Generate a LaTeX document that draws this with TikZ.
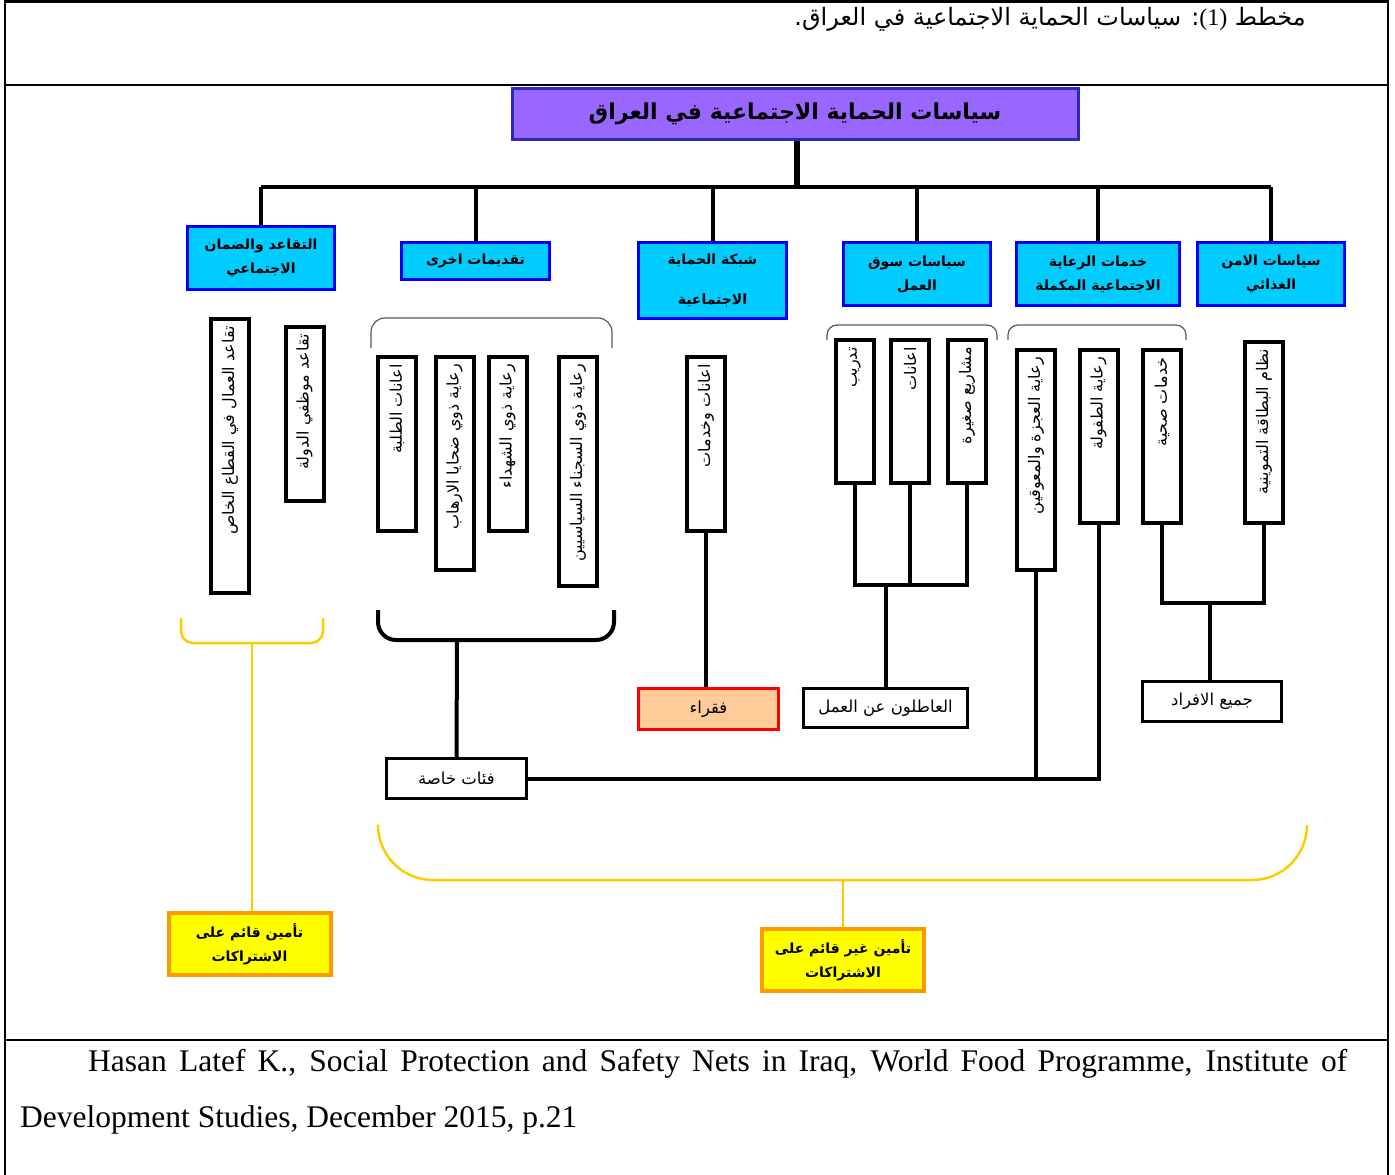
\documentclass[tikz,border=0pt]{standalone}
\usepackage{fontspec}
\setmainfont{Liberation Serif}
\newfontfamily\arabicfont[Script=Arabic]{DejaVu Sans}
\TeXXeTstate=1
\newcommand{\artxt}[1]{{\arabicfont\beginR #1\endR}}
\definecolor{titlefill}{HTML}{9966FF}
\definecolor{titledraw}{HTML}{2A2AB8}
\definecolor{catfill}{HTML}{00CCFF}
\definecolor{catdraw}{HTML}{0000FF}
\definecolor{faqfill}{HTML}{FFCC99}
\definecolor{ylwfill}{HTML}{FFFF00}
\definecolor{ylwdraw}{HTML}{FF9900}
\definecolor{ylwline}{HTML}{FFCC00}
\tikzset{
  titlebox/.style={draw=titledraw, fill=titlefill, line width=3pt, minimum width=566pt, minimum height=51pt, inner sep=0pt, font=\fontsize{22}{26}\selectfont\bfseries},
  catbox/.style={draw=catdraw, fill=catfill, line width=3.5pt, align=center, inner sep=0pt, font=\fontsize{14}{24}\selectfont\bfseries},
  vbox/.style={draw, line width=4pt, fill=white, minimum width=38pt, inner sep=0pt},
  vtext/.style={rotate=90, anchor=east, inner sep=0pt, font=\fontsize{16}{19}\selectfont},
  leafbox/.style={draw, line width=3pt, fill=white, inner sep=0pt, font=\fontsize{16.5}{19}\selectfont},
  ylwbox/.style={draw=ylwdraw, fill=ylwfill, line width=4pt, align=center, inner sep=0pt, minimum width=162pt, minimum height=62pt, font=\fontsize{14}{24}\selectfont\bfseries},
  link/.style={line width=4pt},
  ylink/.style={draw=ylwline, line width=2.5pt},
  thinarc/.style={draw=black!65, line width=1.2pt, rounded corners=14pt},
  frame/.style={line width=2.5pt}
}
\begin{document}
\begin{tikzpicture}[x=1pt,y=-1pt]
\useasboundingbox (0,0) rectangle (1395,1175);
% frame
\draw[frame] (5,1175) -- (5,1.5) -- (1388,1.5) -- (1388,1175);
\draw[frame] (5,85) -- (1388,85);
\draw[frame] (5,1040) -- (1388,1040);
% caption
\node[anchor=east, inner sep=0pt, font=\fontsize{24}{28}\selectfont] (cap) at (1306,19)
  {\arabicfont\beginR مخطط \beginL{\rmfamily(1)}\endL: سياسات الحماية الاجتماعية في العراق.\endR};
% title
\node[titlebox] (title) at (795,113.5) {\artxt{سياسات الحماية الاجتماعية في العراق}};
% categories
\node[catbox, minimum width=147pt, minimum height=63pt] (cat1) at (261,258) {\artxt{التقاعد والضمان}\\\artxt{الاجتماعي}};
\node[catbox, minimum width=148pt, minimum height=37pt] (cat2) at (475.5,261) {\artxt{تقديمات اخرى}};
\node[catbox, minimum width=148pt, minimum height=76pt, font=\fontsize{14}{40}\selectfont\bfseries] (cat3) at (712.5,280.5) {\artxt{شبكة الحماية}\\\artxt{الاجتماعية}};
\node[catbox, minimum width=147pt, minimum height=63pt] (cat4) at (917,274) {\artxt{سياسات سوق}\\\artxt{العمل}};
\node[catbox, minimum width=163pt, minimum height=63pt] (cat5) at (1098,274) {\artxt{خدمات الرعاية}\\\artxt{الاجتماعية المكملة}};
\node[catbox, minimum width=147pt, minimum height=63pt] (cat6) at (1271,274) {\artxt{سياسات الامن}\\\artxt{الغذائي}};
% trunk and bar
\coordinate (bar) at (797,187);
\draw[line width=6pt] (title.south -| bar) -- (bar);
\draw[link] (cat1.north |- bar) -- (cat6.north |- bar);
\foreach \c in {cat1,cat2,cat3,cat4,cat5,cat6} \draw[link] (\c.north) -- (\c.north |- bar);
% vertical boxes
\node[vbox, minimum height=274pt] (va) at (230,456) {};
\node[vbox, minimum height=174pt] (vb) at (304.5,414) {};
\node[vbox, minimum height=174pt] (vc) at (397,444) {};
\node[vbox, minimum height=213pt] (vd) at (454.5,463.5) {};
\node[vbox, minimum height=174pt] (ve) at (507.5,444) {};
\node[vbox, minimum height=229pt] (vf) at (578,471.5) {};
\node[vbox, minimum height=174pt] (vg) at (706,444) {};
\node[vbox, minimum height=143pt] (vh) at (855,411.5) {};
\node[vbox, minimum height=143pt] (vi) at (910,411.5) {};
\node[vbox, minimum height=143pt] (vj) at (967,411.5) {};
\node[vbox, minimum height=220pt] (vk) at (1036,460) {};
\node[vbox, minimum height=173pt] (vl) at (1098.5,436.5) {};
\node[vbox, minimum height=173pt] (vm) at (1162,436.5) {};
\node[vbox, minimum height=181pt] (vn) at (1264,432.5) {};
\node[vtext] (ta) at ([yshift=-9pt]va.north) {\artxt{تقاعد العمال في القطاع الخاص}};
\node[vtext] (tb) at ([yshift=-9pt]vb.north) {\artxt{تقاعد موظفي الدولة}};
\node[vtext] (tc) at ([yshift=-9pt]vc.north) {\artxt{اعانات الطلبة}};
\node[vtext] (td) at ([yshift=-9pt]vd.north) {\artxt{رعاية ذوي ضحايا الارهاب}};
\node[vtext] (te) at ([yshift=-9pt]ve.north) {\artxt{رعاية ذوي الشهداء}};
\node[vtext] (tf) at ([yshift=-9pt]vf.north) {\artxt{رعاية ذوي السجناء السياسيين}};
\node[vtext] (tg) at ([yshift=-9pt]vg.north) {\artxt{اعانات وخدمات}};
\node[vtext] (th) at ([yshift=-9pt]vh.north) {\artxt{تدريب}};
\node[vtext] (ti) at ([yshift=-9pt]vi.north) {\artxt{اعانات}};
\node[vtext] (tj) at ([yshift=-9pt]vj.north) {\artxt{مشاريع صغيرة}};
\node[vtext] (tk) at ([yshift=-9pt]vk.north) {\artxt{رعاية العجزة والمعوقين}};
\node[vtext] (tl) at ([yshift=-9pt]vl.north) {\artxt{رعاية الطفولة}};
\node[vtext] (tm) at ([yshift=-9pt]vm.north) {\artxt{خدمات صحية}};
\node[vtext] (tn) at ([yshift=-9pt]vn.north) {\artxt{نظام البطاقة التموينية}};
% thin arcs
\draw[thinarc] (371,348) -- (371,318) -- (612,318) -- (612,348);
\draw[thinarc, rounded corners=10pt] (827,340) -- (827,325) -- (997,325) -- (997,340);
\draw[thinarc, rounded corners=10pt] (1008,340) -- (1008,325) -- (1186,325) -- (1186,340);
% leaf boxes
\node[leafbox, draw=red, fill=faqfill, minimum width=140pt, minimum height=41pt] (faq) at (708.5,709) {\artxt{فقراء}};
\node[leafbox, minimum width=164pt, minimum height=39pt] (atl) at (885.5,708) {\artxt{العاطلون عن العمل}};
\node[leafbox, minimum width=139pt, minimum height=40pt] (jam) at (1212,701.5) {\artxt{جميع الافراد}};
\node[leafbox, minimum width=140pt, minimum height=40pt] (fia) at (456.5,778.5) {\artxt{فئات خاصة}};
% yellow boxes
\node[ylwbox] (y1) at (249.5,944) {\artxt{تأمين قائم على}\\\artxt{الاشتراكات}};
\node[ylwbox] (y2) at (843,960) {\artxt{تأمين غير قائم على}\\\artxt{الاشتراكات}};
% black bracket under group
\draw[link, rounded corners=18pt] (378,610) -- (378,640) -- (614,640) -- (614,610);
\coordinate (brk) at (457,640);
\draw[link] (brk) -- (fia.north);
% net
\draw[link] (vg.south) -- (vg.south |- faq.north);
% market
\coordinate (mk) at (886,585);
\draw[link] (vh.south) -- (vh.south |- mk) -- (vj.south |- mk) -- (vj.south);
\draw[link] (vi.south) -- (vi.south |- mk);
\draw[link] (mk) -- (mk |- atl.north);
% food
\coordinate (fd) at (1210,603);
\draw[link] (vm.south) -- (vm.south |- fd) -- (vn.south |- fd) -- (vn.south);
\draw[link] (fd) -- (fd |- jam.north);
% care to special groups
\draw[link] (vk.south) -- (vk.south |- fia.east);
\draw[link] (vl.south) -- (vl.south |- fia.east) -- (fia.east);
% yellow brackets
\draw[ylink, rounded corners=12pt] (181,618) -- (181,643) -- (323,643) -- (323,618);
\coordinate (yb1) at (252,643);
\draw[ylink] (yb1) -- (yb1 |- y1.north);
\draw[ylink, rounded corners=55pt] (378,826) -- (378,880) -- (1307,880) -- (1307,826);
\coordinate (yb2) at (843,880);
\draw[ylink] (yb2) -- (y2.north);
% citation
\node[anchor=base west, inner sep=0pt, font=\fontsize{31.5}{36}\selectfont] (cit1) at (88,1071)
  {\makebox[1259pt][s]{Hasan Latef K., Social Protection and Safety Nets in Iraq, World Food Programme, Institute of}};
\node[anchor=base west, inner sep=0pt, font=\fontsize{31.5}{36}\selectfont] (cit2) at (20,1127)
  {Development Studies, December 2015, p.21};
\end{tikzpicture}
\end{document}
